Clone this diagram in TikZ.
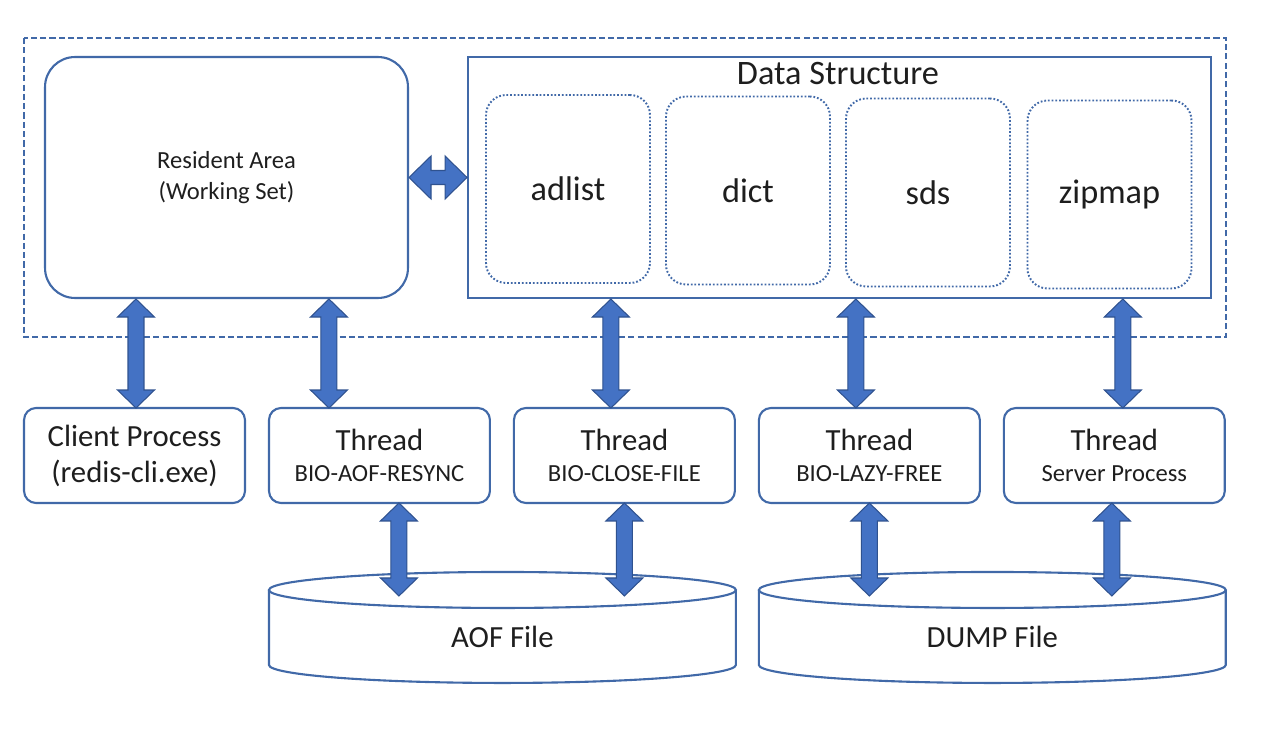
\documentclass[tikz,border=0pt]{standalone}
\usepackage{fontspec}
\setmainfont{Carlito}
\usetikzlibrary{calc,positioning}
\definecolor{lineblue}{RGB}{65,105,168}
\definecolor{arrowblue}{RGB}{68,114,196}
\definecolor{arrowedge}{RGB}{47,82,143}
\definecolor{inkgray}{RGB}{30,30,30}
\newcommand{\threadsub}[1]{{\fontsize{14}{17}\selectfont #1}}

\tikzset{
  boxline/.style={draw=lineblue, line width=1.2pt},
  outerline/.style={draw=lineblue, line width=1.1pt, dash pattern=on 3.5pt off 1.8pt},
  area/.style={boxline, rounded corners=0.6cm, minimum width=7.26cm, minimum height=4.82cm,
    align=center, text=inkgray, font=\fontsize{14}{17.6}\selectfont},
  dsbox/.style={boxline, minimum width=14.86cm, minimum height=4.82cm},
  titletext/.style={text=inkgray, font=\fontsize{19.5}{22}\selectfont},
  dsitem/.style={draw=lineblue, line width=1.1pt, dash pattern=on 1pt off 1.1pt, rounded corners=0.4cm,
    minimum width=3.28cm, minimum height=3.76cm, text=inkgray, font=\fontsize{19.5}{22}\selectfont},
  procbox/.style={boxline, rounded corners=0.24cm, minimum width=4.42cm, minimum height=1.9cm,
    outer sep=0pt, align=center, text=inkgray, font=\fontsize{17.5}{20.5}\selectfont},
  cylbody/.style={minimum width=9.34cm, minimum height=1.86cm, inner sep=0pt, outer sep=0pt,
    text=inkgray, font=\fontsize{17.5}{20.5}\selectfont},
  vdarrow/.style={fill=arrowblue, draw=arrowedge, line width=0.6pt, line join=miter,
    to path={let \p1=(\tikztostart), \p2=(\tikztotarget) in
      (\x1,\y1) -- (\x1+0.37cm,\y1-0.36cm) -- (\x1+0.16cm,\y1-0.36cm)
      -- (\x2+0.16cm,\y2+0.36cm) -- (\x2+0.37cm,\y2+0.36cm) -- (\x2,\y2)
      -- (\x2-0.37cm,\y2+0.36cm) -- (\x2-0.16cm,\y2+0.36cm)
      -- (\x1-0.16cm,\y1-0.36cm) -- (\x1-0.37cm,\y1-0.36cm) -- cycle}},
  hdarrow/.style={fill=arrowblue, draw=arrowedge, line width=0.6pt, line join=miter,
    to path={let \p1=(\tikztostart), \p2=(\tikztotarget) in
      (\x1,\y1) -- (\x1+0.44cm,\y1+0.43cm) -- (\x1+0.44cm,\y1+0.14cm)
      -- (\x2-0.44cm,\y2+0.14cm) -- (\x2-0.44cm,\y2+0.43cm) -- (\x2,\y2)
      -- (\x2-0.44cm,\y2-0.43cm) -- (\x2-0.44cm,\y2-0.14cm)
      -- (\x1+0.44cm,\y1-0.14cm) -- (\x1+0.44cm,\y1-0.43cm) -- cycle}},
}

\begin{document}
\begin{tikzpicture}[x=0.02cm,y=-0.02cm]
\useasboundingbox (0,0) rectangle (1278,736);
%MEMORY
\draw[outerline] (24,38) rectangle (1226,337);
\node[area] (ra) at (226.5,177.5) {Resident Area\\(Working Set)};
\node[dsbox] (ds) at (839.5,177.5) {};
\node[titletext] (dstitle) at (838,74) {Data Structure};
\node[dsitem] (adlist) at (568,189) {adlist};
\node[dsitem] (dict) at (748,190.5) {dict};
\node[dsitem] (sds) at (928,192.5) {sds};
\node[dsitem] (zipmap) at (1109.5,194.5) {zipmap};
%PROCESSES
\node[procbox] (cp) at (134.5,455.5) {Client Process\\(redis-cli.exe)};
\node[procbox, right=0.48cm of cp] (tr) {Thread\\[-3pt]\threadsub{BIO-AOF-RESYNC}};
\node[procbox, right=0.48cm of tr] (tc) {Thread\\[-3pt]\threadsub{BIO-CLOSE-FILE}};
\node[procbox, right=0.48cm of tc] (tl) {Thread\\[-3pt]\threadsub{BIO-LAZY-FREE}};
\node[procbox, right=0.48cm of tl] (ts) {Thread\\[-3pt]\threadsub{Server Process}};
%FILES
\node[cylbody, anchor=north west] (aof) at ([yshift=-1.74cm]tr.south west) {AOF File};
\node[cylbody, right=0.46cm of aof] (dump) {DUMP File};
\foreach \c in {aof,dump}{
  \draw[boxline] (\c.north west) -- ([yshift=0.36cm]\c.south west)
    arc[start angle=180, end angle=360, x radius=4.67cm, y radius=0.36cm] -- (\c.north east);
  \draw[boxline] (\c.north) ellipse[x radius=4.67cm, y radius=0.36cm];
}
%ARROWS
\draw[hdarrow] (ra.east) to (ra.east -| ds.west);
\foreach \b/\s/\t in {cp/0.03cm/ra, tr/-1.01cm/ra, tc/-0.27cm/ds, tl/-0.27cm/ds, ts/0.17cm/ds}
  \draw[vdarrow] ($(\t.south -| \b.north)+(\s,0cm)$) to ($(\b.north)+(\s,0cm)$);
\foreach \b/\s/\c in {tr/0.39cm/aof, tc/0cm/aof, tl/0cm/dump, ts/-0.05cm/dump}
  \draw[vdarrow] ($(\b.south)+(\s,0cm)$) to ($(\c.north -| \b.south)+(\s,-0.12cm)$);
\end{tikzpicture}
\end{document}
